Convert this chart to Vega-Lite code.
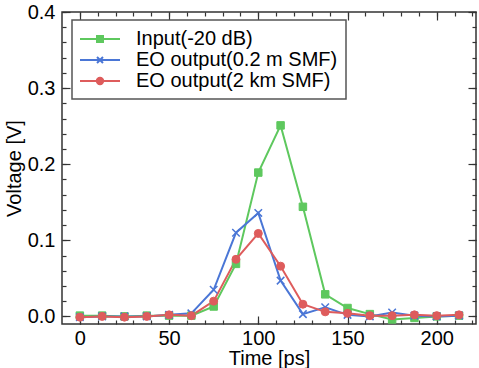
{
  "$schema": "https://vega.github.io/schema/vega-lite/v6.json",
  "width": 414,
  "height": 312,
  "autosize": "none",
  "padding": {"left": 62, "top": 12, "right": 3, "bottom": 44},
  "background": "white",
  "config": {
    "font": "Liberation Sans",
    "view": {"stroke": "#333333", "strokeWidth": 1.5},
    "axis": {
      "domain": false,
      "grid": false,
      "tickColor": "#333333",
      "tickWidth": 1.2,
      "labelFont": "Liberation Sans",
      "labelFontSize": 20,
      "labelColor": "#000000",
      "titleFont": "Liberation Sans",
      "titleFontSize": 20,
      "titleFontWeight": "normal",
      "titleColor": "#000000",
      "labelFlush": false,
      "labelOverlap": false
    }
  },
  "data": {
    "values": [
      {"t": 0, "v": 0.001, "s": "Input(-20 dB)"},
      {"t": 12.5, "v": 0.001, "s": "Input(-20 dB)"},
      {"t": 25, "v": 0.0, "s": "Input(-20 dB)"},
      {"t": 37.5, "v": 0.001, "s": "Input(-20 dB)"},
      {"t": 50, "v": 0.001, "s": "Input(-20 dB)"},
      {"t": 62.5, "v": 0.001, "s": "Input(-20 dB)"},
      {"t": 75, "v": 0.013, "s": "Input(-20 dB)"},
      {"t": 87.5, "v": 0.069, "s": "Input(-20 dB)"},
      {"t": 100, "v": 0.189, "s": "Input(-20 dB)"},
      {"t": 112.5, "v": 0.251, "s": "Input(-20 dB)"},
      {"t": 125, "v": 0.144, "s": "Input(-20 dB)"},
      {"t": 137.5, "v": 0.029, "s": "Input(-20 dB)"},
      {"t": 150, "v": 0.011, "s": "Input(-20 dB)"},
      {"t": 162.5, "v": 0.003, "s": "Input(-20 dB)"},
      {"t": 175, "v": -0.004, "s": "Input(-20 dB)"},
      {"t": 187.5, "v": -0.002, "s": "Input(-20 dB)"},
      {"t": 200, "v": 0.0, "s": "Input(-20 dB)"},
      {"t": 212.5, "v": 0.001, "s": "Input(-20 dB)"},
      {"t": 0, "v": -0.001, "s": "EO output(0.2 m SMF)"},
      {"t": 12.5, "v": 0.0, "s": "EO output(0.2 m SMF)"},
      {"t": 25, "v": 0.0, "s": "EO output(0.2 m SMF)"},
      {"t": 37.5, "v": 0.0, "s": "EO output(0.2 m SMF)"},
      {"t": 50, "v": 0.002, "s": "EO output(0.2 m SMF)"},
      {"t": 62.5, "v": 0.004, "s": "EO output(0.2 m SMF)"},
      {"t": 75, "v": 0.035, "s": "EO output(0.2 m SMF)"},
      {"t": 87.5, "v": 0.11, "s": "EO output(0.2 m SMF)"},
      {"t": 100, "v": 0.136, "s": "EO output(0.2 m SMF)"},
      {"t": 112.5, "v": 0.047, "s": "EO output(0.2 m SMF)"},
      {"t": 125, "v": 0.003, "s": "EO output(0.2 m SMF)"},
      {"t": 137.5, "v": 0.012, "s": "EO output(0.2 m SMF)"},
      {"t": 150, "v": 0.002, "s": "EO output(0.2 m SMF)"},
      {"t": 162.5, "v": 0.0, "s": "EO output(0.2 m SMF)"},
      {"t": 175, "v": 0.005, "s": "EO output(0.2 m SMF)"},
      {"t": 187.5, "v": 0.001, "s": "EO output(0.2 m SMF)"},
      {"t": 200, "v": 0.0, "s": "EO output(0.2 m SMF)"},
      {"t": 212.5, "v": 0.001, "s": "EO output(0.2 m SMF)"},
      {"t": 0, "v": -0.001, "s": "EO output(2 km SMF)"},
      {"t": 12.5, "v": 0.0, "s": "EO output(2 km SMF)"},
      {"t": 25, "v": -0.001, "s": "EO output(2 km SMF)"},
      {"t": 37.5, "v": 0.0, "s": "EO output(2 km SMF)"},
      {"t": 50, "v": 0.002, "s": "EO output(2 km SMF)"},
      {"t": 62.5, "v": 0.001, "s": "EO output(2 km SMF)"},
      {"t": 75, "v": 0.02, "s": "EO output(2 km SMF)"},
      {"t": 87.5, "v": 0.075, "s": "EO output(2 km SMF)"},
      {"t": 100, "v": 0.109, "s": "EO output(2 km SMF)"},
      {"t": 112.5, "v": 0.066, "s": "EO output(2 km SMF)"},
      {"t": 125, "v": 0.016, "s": "EO output(2 km SMF)"},
      {"t": 137.5, "v": 0.006, "s": "EO output(2 km SMF)"},
      {"t": 150, "v": 0.004, "s": "EO output(2 km SMF)"},
      {"t": 162.5, "v": 0.001, "s": "EO output(2 km SMF)"},
      {"t": 175, "v": 0.001, "s": "EO output(2 km SMF)"},
      {"t": 187.5, "v": 0.002, "s": "EO output(2 km SMF)"},
      {"t": 200, "v": 0.001, "s": "EO output(2 km SMF)"},
      {"t": 212.5, "v": 0.002, "s": "EO output(2 km SMF)"}
    ]
  },
  "layer": [
    {
      "mark": {"type": "line", "strokeWidth": 2},
      "encoding": {
        "x": {
          "field": "t", "type": "quantitative",
          "scale": {"domain": [-10, 222], "nice": false, "zero": false},
          "axis": {"orient": "bottom", "values": [0, 50, 100, 150, 200], "tickSize": -8, "labelPadding": 12, "title": "Time [ps]", "titlePadding": 0}
        },
        "y": {
          "field": "v", "type": "quantitative",
          "scale": {"domain": [-0.01, 0.4], "nice": false, "zero": false},
          "axis": {"orient": "left", "values": [0, 0.1, 0.2, 0.3, 0.4], "format": ".1f", "tickSize": -8, "labelPadding": 15, "title": "Voltage [V]", "titlePadding": 3}
        },
        "color": {
          "field": "s", "type": "nominal",
          "scale": {"domain": ["Input(-20 dB)", "EO output(0.2 m SMF)", "EO output(2 km SMF)"], "range": ["#5ec85e", "#4a76d6", "#de5c5c"]},
          "legend": {
            "orient": "none", "legendX": 10, "legendY": 8,
            "title": null,
            "padding": 8,
            "strokeColor": "#555555",
            "fillColor": "#ffffff",
            "labelFont": "Liberation Sans",
            "labelFontSize": 20,
            "labelColor": "#000000",
            "labelLimit": 400,
            "symbolSize": 400,
            "symbolStrokeWidth": 2,
            "symbolOffset": 9,
            "labelOffset": 25,
            "rowPadding": 0,
            "encode": {
              "legend": {"update": {"strokeWidth": {"value": 1.5}}},
              "symbols": {
                "update": {
                  "shape": {"signal": "datum.value === 'Input(-20 dB)' ? 'M-2,0H2M-0.3,-0.3H0.3V0.3H-0.3Z' : datum.value === 'EO output(0.2 m SMF)' ? 'M-2,0H2M-0.3,-0.3L0.3,0.3M-0.3,0.3L0.3,-0.3' : 'M-2,0H2M0.32,0A0.32,0.32 0 1,1 -0.32,0A0.32,0.32 0 1,1 0.32,0Z'"},
                  "fill": {"scale": "color", "field": "value"},
                  "stroke": {"scale": "color", "field": "value"},
                  "strokeWidth": {"value": 2}
                }
              }
            }
          }
        }
      }
    },
    {
      "transform": [{"filter": "datum.s === 'Input(-20 dB)'"}],
      "mark": {"type": "point", "shape": "square", "filled": true, "size": 56, "color": "#5ec85e", "stroke": "#5ec85e", "strokeWidth": 1, "opacity": 1},
      "encoding": {
        "x": {
          "field": "t", "type": "quantitative",
          "axis": {"orient": "bottom", "values": [0, 10, 20, 30, 40, 50, 60, 70, 80, 90, 100, 110, 120, 130, 140, 150, 160, 170, 180, 190, 200, 210, 220], "tickSize": -4, "labels": false, "title": null}
        },
        "y": {
          "field": "v", "type": "quantitative",
          "axis": {"orient": "left", "values": [0, 0.02, 0.04, 0.06, 0.08, 0.1, 0.12, 0.14, 0.16, 0.18, 0.2, 0.22, 0.24, 0.26, 0.28, 0.3, 0.32, 0.34, 0.36, 0.38, 0.4], "tickSize": -4, "labels": false, "title": null}
        }
      }
    },
    {
      "transform": [{"filter": "datum.s === 'EO output(0.2 m SMF)'"}],
      "mark": {"type": "point", "shape": "M-1,-1L1,1M-1,1L1,-1", "filled": false, "size": 56, "stroke": "#4a76d6", "strokeWidth": 1.5, "opacity": 1},
      "encoding": {
        "x": {
          "field": "t", "type": "quantitative",
          "axis": {"orient": "top", "values": [0, 50, 100, 150, 200], "tickSize": -8, "labels": false, "title": null}
        },
        "y": {
          "field": "v", "type": "quantitative",
          "axis": {"orient": "right", "values": [0, 0.1, 0.2, 0.3, 0.4], "tickSize": -8, "labels": false, "title": null}
        }
      }
    },
    {
      "transform": [{"filter": "datum.s === 'EO output(2 km SMF)'"}],
      "mark": {"type": "point", "shape": "circle", "filled": true, "size": 64, "color": "#de5c5c", "stroke": "#de5c5c", "strokeWidth": 1, "opacity": 1},
      "encoding": {
        "x": {
          "field": "t", "type": "quantitative",
          "axis": {"orient": "top", "values": [0, 10, 20, 30, 40, 50, 60, 70, 80, 90, 100, 110, 120, 130, 140, 150, 160, 170, 180, 190, 200, 210, 220], "tickSize": -4, "labels": false, "title": null}
        },
        "y": {
          "field": "v", "type": "quantitative",
          "axis": {"orient": "right", "values": [0, 0.02, 0.04, 0.06, 0.08, 0.1, 0.12, 0.14, 0.16, 0.18, 0.2, 0.22, 0.24, 0.26, 0.28, 0.3, 0.32, 0.34, 0.36, 0.38, 0.4], "tickSize": -4, "labels": false, "title": null}
        }
      }
    }
  ],
  "resolve": {"axis": {"x": "independent", "y": "independent"}}
}
